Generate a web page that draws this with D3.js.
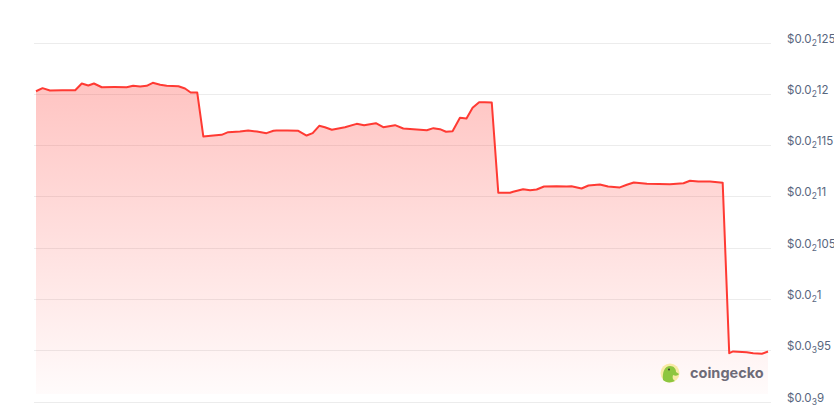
<!DOCTYPE html>
<html>
<head>
<meta charset="utf-8">
<script src="https://cdn.jsdelivr.net/npm/d3@7"></script>
<style>
  body { margin: 0; background: #fff; }
  svg { display: block; font-family: Inter, "Noto Sans", sans-serif; }
</style>
</head>
<body>
<div id="chart"></div>
<script>
// hours since start of the 7 day window
const hours = [0, 1.5, 3.2, 6, 9.0, 10.5, 12.0, 13.3, 15.1, 18, 20.8, 22.3, 23.9, 25.4, 26.8, 28.5, 30.0, 32.7, 34.2, 35.5, 37.0,
  38.4, 40.7, 42.6, 44.1, 46.8, 48.7, 50.7, 52.9, 54.5, 55.2, 57.7, 60.2, 62.1, 63.5, 65.0, 66.3, 67.9, 70.9, 73.6, 75.3, 78.0,
  79.7, 82.4, 84.3, 86.6, 89.7, 91.2, 92.7, 94.1, 95.6, 97.3, 98.8, 100.2, 101.7, 103.0, 104.6,
  106.1, 108.8, 109.5, 111.8, 113.4, 114.9, 116.6, 119.5, 121.8, 122.9, 125.2, 126.8, 129.4, 131.3, 134.0, 135.6, 137.2,
  140.2, 143, 145.5, 148.6, 150.1, 152.0, 154.7, 157.6,
  159.1, 160.0, 163.1, 164.6, 166.6, 168];
const prices = [0.0012025, 0.0012055, 0.0012032, 0.0012034, 0.0012035, 0.0012100, 0.0012081, 0.0012100, 0.0012064, 0.0012065, 0.0012064,
  0.0012078, 0.0012071, 0.0012078, 0.0012107, 0.0012088, 0.0012078, 0.0012074, 0.0012052, 0.0012013, 0.0012013,
  0.0011584, 0.0011593, 0.0011600, 0.0011626, 0.0011632, 0.0011642, 0.0011632, 0.0011616, 0.0011639, 0.0011642, 0.0011641,
  0.0011639, 0.0011593, 0.0011616, 0.0011688, 0.0011674, 0.0011649, 0.0011674, 0.0011707, 0.0011694, 0.0011713,
  0.0011674, 0.0011694, 0.0011662, 0.0011655, 0.0011645, 0.0011665, 0.0011655, 0.0011630, 0.0011635, 0.0011766,
  0.0011759, 0.0011863, 0.0011918, 0.0011918, 0.0011915,
  0.0011035, 0.0011035, 0.0011045, 0.0011070, 0.0011060, 0.0011067, 0.0011096, 0.0011099, 0.0011096, 0.0011099,
  0.0011077, 0.0011106, 0.0011116, 0.0011096, 0.0011087, 0.0011113, 0.0011135, 0.0011123, 0.0011121, 0.0011119,
  0.0011128, 0.0011152, 0.0011145, 0.0011145, 0.0011132,
  0.0009471, 0.0009488, 0.0009481, 0.0009471, 0.0009465, 0.0009488];
const tickValues = [0.0009, 0.00095, 0.001, 0.00105, 0.0011, 0.00115, 0.0012, 0.00125];

const data = hours.map((h, i) => ({ h, p: prices[i] }));

const width = 834, height = 407;
const lineColor = "#ff3a33";

const svg = d3.select("#chart").append("svg")
  .attr("width", width)
  .attr("height", height);

const x = d3.scaleLinear().domain([0, 168]).range([36, 768]);
const y = d3.scaleLinear().domain([0.0009, 0.00125]).range([401.5, 42.5]);

// gradient under the line
const grad = svg.append("defs").append("linearGradient")
  .attr("id", "fillGrad")
  .attr("x1", 0).attr("y1", 0).attr("x2", 0).attr("y2", 1);
grad.append("stop").attr("offset", "0%").attr("stop-color", lineColor).attr("stop-opacity", 0.3);
grad.append("stop").attr("offset", "100%").attr("stop-color", lineColor).attr("stop-opacity", 0.02);

// grid lines
svg.append("g")
  .selectAll("line")
  .data(tickValues)
  .join("line")
  .attr("x1", 34).attr("x2", 771)
  .attr("y1", d => Math.round(y(d)) + 0.5)
  .attr("y2", d => Math.round(y(d)) + 0.5)
  .attr("stroke", "#ececec")
  .attr("stroke-width", 1);

const area = d3.area()
  .x(d => x(d.h))
  .y0(394)
  .y1(d => y(d.p));

const line = d3.line()
  .x(d => x(d.h))
  .y(d => y(d.p));

svg.append("path")
  .datum(data)
  .attr("d", area)
  .attr("fill", "url(#fillGrad)");

svg.append("path")
  .datum(data)
  .attr("d", line)
  .attr("fill", "none")
  .attr("stroke", lineColor)
  .attr("stroke-width", 2)
  .attr("stroke-linejoin", "round");

// y labels with subscript zero count, like $0.0₂125
const splitLabel = v => {
  const s = v.toFixed(8).replace(/0+$/, "").split(".")[1];
  const zeros = s.match(/^0*/)[0].length;
  return { zeros: zeros - 1, digits: s.slice(zeros) };
};

const labels = svg.append("g")
  .selectAll("text")
  .data(tickValues)
  .join("text")
  .attr("x", 787)
  .attr("y", d => y(d))
  .attr("fill", "#58667e")
  .attr("font-size", 11.5);

labels.append("tspan").text("$0.0");
labels.append("tspan")
  .attr("font-size", 8.5)
  .attr("dy", 3)
  .text(d => splitLabel(d).zeros + 1);
labels.append("tspan")
  .attr("dy", -3)
  .text(d => splitLabel(d).digits);

// watermark
const wm = svg.append("g");
wm.append("circle").attr("cx", 670).attr("cy", 373).attr("r", 9.5).attr("fill", "#f8eaa6");
wm.append("path")
  .attr("d", "M663,380 C662,372 665,366 670,366 C674,366 676,369 676,372 L679,374 C678,376 675,376 673,375 C672,378 673,380 675,381 C671,383 666,383 663,380 Z")
  .attr("fill", "#8dc63f");
wm.append("circle").attr("cx", 669).attr("cy", 369.5).attr("r", 1).attr("fill", "#333");
wm.append("text")
  .attr("x", 690)
  .attr("y", 378)
  .attr("font-size", 14.5)
  .attr("font-weight", 700)
  .attr("fill", "#6e6b78")
  .text("coingecko");
</script>
</body>
</html>
